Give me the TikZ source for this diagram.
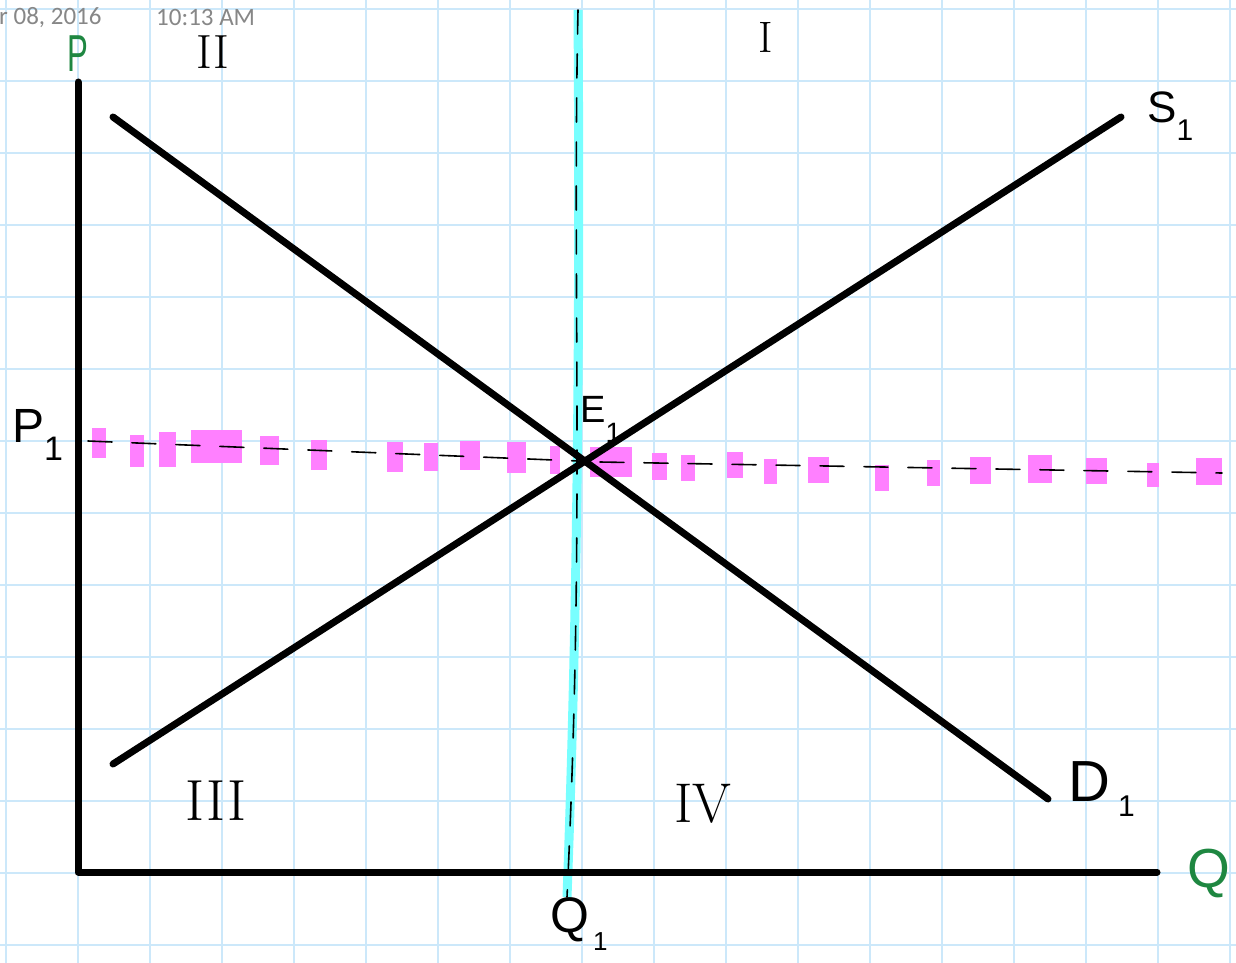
\documentclass[tikz,border=0pt]{standalone}
\usepackage{fontspec}
\setmainfont{Liberation Sans}
\newfontfamily\hdr{Carlito}
\newfontfamily\romn{Latin Modern Roman}
\definecolor{gridblue}{RGB}{204,232,250}
\definecolor{hlpink}{RGB}{255,128,255}
\definecolor{hlcyan}{RGB}{120,255,255}
\definecolor{axgreen}{RGB}{30,135,65}
\definecolor{hdrgray}{RGB}{135,135,135}
\newcommand{\subone}[3]{\hspace{#1pt}\raisebox{-#2pt}{\fontsize{#3}{#3}\selectfont 1}}
\tikzset{
  gridline/.style={draw=gridblue, line width=2pt},
  mainline/.style={draw=black, line width=7pt, line cap=round, line join=round},
  inkdash/.style={draw=black, line width=1.6pt, line cap=round, dash pattern=on 24pt off 20pt},
  pinkmark/.style={fill=hlpink, draw=none},
  lbl/.style={inner sep=0pt, anchor=base west},
  roman/.style={inner sep=0pt, font=\romn\fontsize{48}{48}\selectfont},
  axlbl/.style={inner sep=0pt, text=axgreen},
  hdrtext/.style={inner sep=0pt, anchor=base west, text=hdrgray, font=\hdr\fontsize{25}{25}\selectfont}
}
\begin{document}
\begin{tikzpicture}[x=1pt,y=-1pt]
\useasboundingbox (0,0) rectangle (1236,963);
\fill[white] (0,0) rectangle (1236,963);
% grid
\foreach \gx in {0,...,17} { \draw[gridline] ({6+72*\gx},0) -- ({6+72*\gx},963); }
\foreach \gy in {0,...,13} { \draw[gridline] (0,{9+72*\gy}) -- (1236,{9+72*\gy}); }
% header
\node[hdrtext] (date) at (-1,25) {r 08, 2016};
\node[hdrtext] (time) at (156,26) {10:13 AM};
% coordinates
\coordinate (ptop) at (78,82);
\coordinate (origin) at (78,872);
\coordinate (qend) at (1157,872);
\coordinate (dtop) at (113,117);
\coordinate (dbot) at (1048,799);
\coordinate (sbot) at (113,764);
\coordinate (stop) at (1121,117);
\coordinate (qtop) at (578,10);
\coordinate (qbot) at (567,897);
\coordinate (pl) at (88,441);
\coordinate (pm) at (578,461);
\coordinate (pr1) at (600,462);
\coordinate (pr2) at (1222,473);
% cyan highlighter
\draw[draw=hlcyan, line width=9pt] (qtop) .. controls (580,300) and (578,600) .. (qbot);
% pink highlighter dashes
\foreach \xa/\ya/\xb/\yb in {92/428/106/458, 130/435/144/467, 159/432/176/467, 191/430/242/463,
  260/436/279/465, 311/440/327/470, 387/442/403/472, 424/443/438/471, 460/441/480/470,
  507/442/526/473, 550/446/560/474, 590/447/632/477, 652/453/667/480, 681/455/695/481,
  727/452/743/478, 764/459/777/484, 808/457/829/483, 875/465/889/491, 927/460/940/486,
  970/457/991/484, 1028/455/1052/483, 1086/458/1107/484, 1147/463/1159/487, 1196/458/1222/485}
  { \fill[pinkmark] (\xa,\ya) rectangle (\xb,\yb); }
% ink dashed guides
\draw[inkdash] (qtop) .. controls (572,300) and (585,520) .. (qbot);
\draw[inkdash] (pl) -- (pm);
\draw[inkdash] (pr1) -- (pr2);
% axes and curves
\draw[mainline] (ptop) -- (origin) -- (qend);
\draw[mainline] (dtop) -- (dbot);
\draw[mainline] (sbot) -- (stop);
% axis labels
\node[axlbl, xscale=0.6, font=\fontsize{52}{52}\selectfont] (P) at (78,54) {P};
\node[axlbl, anchor=base west, font=\fontsize{55}{55}\selectfont] (Q) at (1187,887) {Q};
% region labels
\node[roman] (rII) at (213,52) {II};
\node[roman, font=\romn\fontsize{44}{44}\selectfont] (rI) at (766,37) {I};
\node[roman, font=\romn\fontsize{58}{58}\selectfont] (rIII) at (216,801) {III};
\node[roman, font=\romn\fontsize{56}{56}\selectfont] (rIV) at (703,804) {IV};
% curve and point labels
\node[lbl, font=\fontsize{44}{44}\selectfont] (S) at (1147,122) {S\subone{0}{18}{30}};
\node[lbl, font=\fontsize{58}{58}\selectfont] (D) at (1068,801) {D\subone{8}{15}{30}};
\node[lbl, font=\fontsize{48}{48}\selectfont] (P1) at (12,442) {P\subone{0}{18}{34}};
\node[lbl, font=\fontsize{38}{38}\selectfont] (E) at (580,422) {E\subone{0}{20}{28}};
\node[lbl, font=\fontsize{50}{50}\selectfont] (Q1) at (550,932) {Q\subone{4}{18}{26}};
\end{tikzpicture}
\end{document}
